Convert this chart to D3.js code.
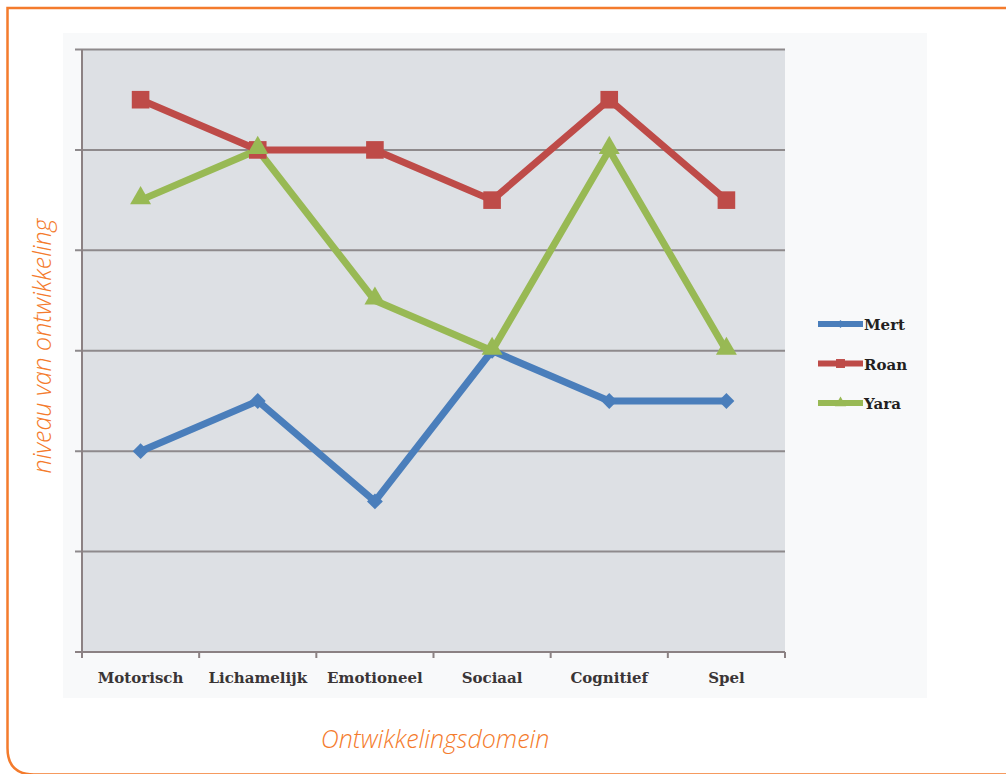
<!DOCTYPE html>
<html>
<head>
<meta charset="utf-8">
<script src="https://cdn.jsdelivr.net/npm/d3@7"></script>
<style>
  body { margin: 0; background: #fff; }
  svg { display: block; }
</style>
</head>
<body>
<script>
const categories = ['Motorisch', 'Lichamelijk', 'Emotioneel', 'Sociaal', 'Cognitief', 'Spel'];
const seriesNames = ['Mert', 'Roan', 'Yara'];
const mert = [2, 2.5, 1.5, 3, 2.5, 2.5];
const roan = [5.5, 5, 5, 4.5, 5.5, 4.5];
const yara = [4.5, 5, 3.5, 3, 5, 3];
const yTicks = [0, 1, 2, 3, 4, 5, 6];

const W = 1006, H = 774;
const orange = '#f47b2c';
const colors = { Mert: '#4a7ebb', Roan: '#be4b48', Yara: '#98b954' };
const series = [
  { name: 'Mert', values: mert },
  { name: 'Roan', values: roan },
  { name: 'Yara', values: yara }
];

var svg = d3.select('body').append('svg')
  .attr('width', W)
  .attr('height', H);

// orange frame, square top-left corner, rounded bottom-left
svg.append('path')
  .attr('d', 'M1030,8 L7.5,8 L7.5,748 Q7.5,774.5 34,774.5 L1030,774.5')
  .attr('fill', 'none')
  .attr('stroke', orange)
  .attr('stroke-width', 2.5);

// chart area
svg.append('rect')
  .attr('x', 63).attr('y', 33)
  .attr('width', 864).attr('height', 665)
  .attr('fill', '#f8f9fa');

var plot = { left: 82, right: 785, top: 49.5, bottom: 652 };

var x = d3.scaleBand()
  .domain(categories)
  .range([plot.left, plot.right]);

var y = d3.scaleLinear()
  .domain([0, 6])
  .range([plot.bottom, plot.top]);

svg.append('rect')
  .attr('x', plot.left).attr('y', plot.top)
  .attr('width', plot.right - plot.left)
  .attr('height', plot.bottom - plot.top)
  .attr('fill', '#dde0e4');

// gridlines + left ticks
svg.append('g')
  .selectAll('line')
  .data(yTicks.filter(function(d) { return d > 0; }))
  .enter().append('line')
  .attr('x1', plot.left - 7)
  .attr('x2', plot.right)
  .attr('y1', function(d) { return y(d); })
  .attr('y2', function(d) { return y(d); })
  .attr('stroke', '#8e8a8c')
  .attr('stroke-width', 2);

// axes
svg.append('line')
  .attr('x1', plot.left).attr('x2', plot.left)
  .attr('y1', plot.top).attr('y2', plot.bottom)
  .attr('stroke', '#8b8183').attr('stroke-width', 2);

svg.append('line')
  .attr('x1', plot.left - 7).attr('x2', plot.right)
  .attr('y1', plot.bottom).attr('y2', plot.bottom)
  .attr('stroke', '#8b8183').attr('stroke-width', 2);

var xTickPos = categories.map(function(c) { return x(c); }).concat([plot.right]);
svg.append('g')
  .selectAll('line')
  .data(xTickPos)
  .enter().append('line')
  .attr('x1', function(d) { return d; })
  .attr('x2', function(d) { return d; })
  .attr('y1', plot.bottom)
  .attr('y2', plot.bottom + 6)
  .attr('stroke', '#8b8183')
  .attr('stroke-width', 2);

// category labels
svg.append('g')
  .selectAll('text')
  .data(categories)
  .enter().append('text')
  .attr('x', function(d) { return x(d) + x.bandwidth() / 2; })
  .attr('y', 683)
  .attr('text-anchor', 'middle')
  .style('font-family', 'DejaVu Serif')
  .style('font-weight', 'bold')
  .style('font-size', '15px')
  .style('fill', '#3a3536')
  .text(function(d) { return d; });

var line = d3.line()
  .x(function(d, i) { return x(categories[i]) + x.bandwidth() / 2; })
  .y(function(d) { return y(d); });

function marker(name, size) {
  if (name === 'Mert') return d3.symbol(d3.symbolDiamond2, size)();
  if (name === 'Roan') return d3.symbol(d3.symbolSquare, size)();
  return d3.symbol(d3.symbolTriangle, size)();
}

series.forEach(function(s) {
  svg.append('path')
    .datum(s.values)
    .attr('d', line)
    .attr('fill', 'none')
    .attr('stroke', colors[s.name])
    .attr('stroke-width', 7)
    .attr('stroke-linejoin', 'round');
});

series.forEach(function(s) {
  var size = s.name === 'Mert' ? 160 : s.name === 'Roan' ? 310 : 190;
  svg.append('g')
    .selectAll('path')
    .data(s.values)
    .enter().append('path')
    .attr('d', marker(s.name, size))
    .attr('transform', function(d, i) {
      var dy = s.name === 'Yara' ? -2 : 0;
      return 'translate(' + (x(categories[i]) + x.bandwidth() / 2) + ',' + (y(d) + dy) + ')';
    })
    .attr('fill', colors[s.name]);
});

// legend
var legend = svg.selectAll('.legend')
  .data(seriesNames)
  .enter().append('g')
  .attr('class', 'legend')
  .attr('transform', function(d, i) { return 'translate(818,' + (324 + i * 39.5) + ')'; });

legend.append('line')
  .attr('x1', 0).attr('x2', 45)
  .attr('stroke', function(d) { return colors[d]; })
  .attr('stroke-width', 6);

legend.append('path')
  .attr('d', function(d) {
    var size = d === 'Mert' ? 40 : d === 'Roan' ? 80 : 55;
    return marker(d, size);
  })
  .attr('transform', 'translate(22.5,0)')
  .attr('fill', function(d) { return colors[d]; });

legend.append('text')
  .attr('x', 46)
  .attr('y', 6)
  .style('font-family', 'DejaVu Serif')
  .style('font-weight', 'bold')
  .style('font-size', '15px')
  .style('fill', '#231f20')
  .text(function(d) { return d; });

// axis titles
svg.append('text')
  .attr('transform', 'translate(51,346) rotate(-90)')
  .attr('text-anchor', 'middle')
  .style('font-family', 'Open Sans')
  .style('font-style', 'italic')
  .style('font-weight', 300)
  .style('font-size', '25px')
  .style('fill', orange)
  .text('niveau van ontwikkeling');

svg.append('text')
  .attr('x', 435)
  .attr('y', 748)
  .attr('text-anchor', 'middle')
  .style('font-family', 'Open Sans')
  .style('font-style', 'italic')
  .style('font-weight', 300)
  .style('font-size', '25px')
  .style('fill', orange)
  .text('Ontwikkelingsdomein');
</script>
</body>
</html>
